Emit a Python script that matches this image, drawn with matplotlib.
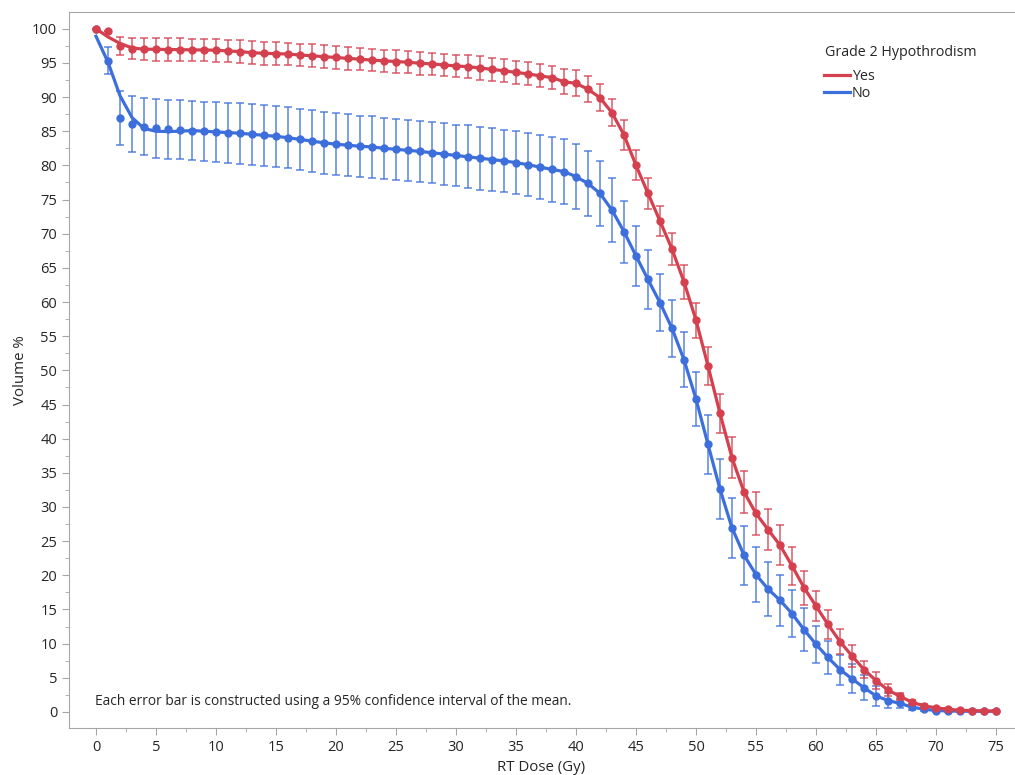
import matplotlib.pyplot as plt
from matplotlib.ticker import MultipleLocator

# mean volume % at each dose level, with 95% CI half-widths
dose = list(range(76))

yes_mean = [100.0, 99.65, 97.45, 97.1, 97.0, 97.0, 96.95, 96.95, 96.9, 96.9,
            96.85, 96.75, 96.65, 96.5, 96.4, 96.35, 96.3, 96.15, 96.05, 95.9,
            95.8, 95.65, 95.55, 95.4, 95.3, 95.2, 95.1, 94.95, 94.85, 94.7,
            94.55, 94.45, 94.25, 94.05, 93.85, 93.6, 93.4, 93.1, 92.85, 92.25,
            92.0, 91.15, 89.9, 87.7, 84.45, 80.0, 75.9, 71.85, 67.75, 62.95,
            57.35, 50.65, 43.7, 37.2, 32.2, 29.05, 26.7, 24.4, 21.4, 18.2,
            15.5, 12.8, 10.3, 8.2, 6.2, 4.6, 3.2, 2.3, 1.4, 0.9,
            0.6, 0.4, 0.25, 0.2, 0.15, 0.12]
yes_err = [0, 0, 1.3, 1.5, 1.6, 1.65, 1.65, 1.65, 1.65, 1.65,
           1.65, 1.65, 1.65, 1.65, 1.65, 1.65, 1.65, 1.65, 1.65, 1.65,
           1.65, 1.65, 1.65, 1.65, 1.65, 1.65, 1.65, 1.65, 1.65, 1.65,
           1.65, 1.7, 1.7, 1.7, 1.7, 1.7, 1.7, 1.7, 1.7, 1.8,
           1.9, 1.9, 2.0, 2.0, 2.2, 2.2, 2.25, 2.25, 2.3, 2.45,
           2.55, 2.8, 2.85, 3.0, 3.05, 3.1, 3.0, 2.9, 2.8, 2.5,
           2.2, 2.15, 1.8, 1.55, 1.2, 1.2, 0.9, 0.5, 0.4, 0.3,
           0.15, 0.15, 0.15, 0.15, 0.15, 0.15]

no_mean = [100.0, 95.35, 86.9, 86.05, 85.65, 85.4, 85.3, 85.2, 85.1, 85.0,
           84.9, 84.8, 84.7, 84.55, 84.4, 84.25, 84.05, 83.8, 83.55, 83.3,
           83.1, 82.95, 82.8, 82.7, 82.5, 82.35, 82.2, 82.05, 81.85, 81.65,
           81.45, 81.25, 81.05, 80.85, 80.65, 80.4, 80.1, 79.75, 79.4, 79.1,
           78.35, 77.35, 75.9, 73.45, 70.3, 66.75, 63.3, 59.9, 56.15, 51.55,
           45.8, 39.15, 32.6, 26.95, 22.95, 20.1, 18.0, 16.35, 14.4, 12.05,
           9.9, 7.97, 6.2, 4.85, 3.55, 2.35, 1.67, 1.25, 0.7, 0.4,
           0.2, 0.15, 0.1, 0.1, 0.1, 0.1]
no_err = [0, 2.0, 3.95, 4.15, 4.2, 4.25, 4.3, 4.3, 4.35, 4.35,
          4.4, 4.4, 4.45, 4.45, 4.5, 4.5, 4.5, 4.5, 4.5, 4.5,
          4.5, 4.5, 4.5, 4.5, 4.5, 4.5, 4.5, 4.5, 4.5, 4.5,
          4.5, 4.6, 4.6, 4.6, 4.6, 4.6, 4.65, 4.7, 4.75, 4.8,
          4.8, 4.8, 4.75, 4.7, 4.55, 4.45, 4.35, 4.2, 4.2, 4.0,
          4.0, 4.25, 4.4, 4.4, 4.3, 4.0, 3.9, 3.7, 3.45, 3.1,
          2.75, 2.45, 2.2, 2.1, 1.8, 1.45, 1.05, 0.7, 0.45, 0.3,
          0.15, 0.15, 0.15, 0.15, 0.15, 0.15]

# smoothed fit differs from the means only over the first few doses
yes_fit_head = [100.0, 98.8, 97.85, 97.2, 97.0]
no_fit_head = [98.9, 95.1, 90.2, 87.0, 85.4, 85.0, 84.95, 85.0]
yes_fit = yes_fit_head + yes_mean[len(yes_fit_head):]
no_fit = no_fit_head + no_mean[len(no_fit_head):]

red = '#d5404f'
blue = '#3d6fdc'
grey = '#a6a6a6'
txt = '#262626'

plt.rcParams['font.family'] = ['Open Sans', 'DejaVu Sans']
plt.rcParams['font.size'] = 10.5

fig = plt.figure(figsize=(10.15, 7.75), dpi=100)
ax = fig.add_axes([69 / 1015, 1 - 728 / 775, 945 / 1015, 716 / 775])

for mean, err, fit, c, lab in [(no_mean, no_err, no_fit, blue, 'No'),
                               (yes_mean, yes_err, yes_fit, red, 'Yes')]:
    ax.errorbar(dose, mean, yerr=err, fmt='none', ecolor=c, elinewidth=1.1,
                capsize=3, capthick=1.1, alpha=0.85)
    ax.plot(dose, mean, 'o', color=c, ms=5)
    ax.plot(dose, fit, '-', color=c, lw=2.3, label=lab)

ax.set_xlim(-2.25, 76.5)
ax.set_ylim(-2.35, 102.45)
ax.xaxis.set_major_locator(MultipleLocator(5))
ax.xaxis.set_minor_locator(MultipleLocator(2.5))
ax.yaxis.set_major_locator(MultipleLocator(5))
ax.yaxis.set_minor_locator(MultipleLocator(2.5))
ax.tick_params(which='major', length=5, color=grey, labelcolor=txt, labelsize=10.5)
ax.tick_params(which='minor', length=3, color=grey)
for side in ['left', 'bottom', 'top']:
    ax.spines[side].set_color(grey)
ax.spines['right'].set_visible(False)

ax.set_xlabel('RT Dose (Gy)', color=txt, labelpad=4, fontsize=10.8)
ax.set_ylabel('Volume %', color=txt, labelpad=3, fontsize=10.8)

ax.text(-0.1, 1.6, 'Each error bar is constructed using a 95% confidence interval of the mean.',
        color=txt, fontsize=9.9, va='center')

# legend: title as its own text, entries stacked below it
fig.text(825 / 1015, 1 - 52 / 775, 'Grade 2 Hypothrodism', color=txt,
         fontsize=10.3, va='center', ha='left')
handles, labels = ax.get_legend_handles_labels()
leg = ax.legend(handles[::-1], labels[::-1], loc='upper left',
                bbox_to_anchor=(824 / 1015, 1 - 69 / 775),
                bbox_transform=fig.transFigure, frameon=False,
                handlelength=1.8, handletextpad=0.15, labelspacing=0.12,
                borderpad=0, borderaxespad=0, fontsize=10.3)
for t in leg.get_texts():
    t.set_color(txt)

fig.savefig('out.png', dpi=100)
